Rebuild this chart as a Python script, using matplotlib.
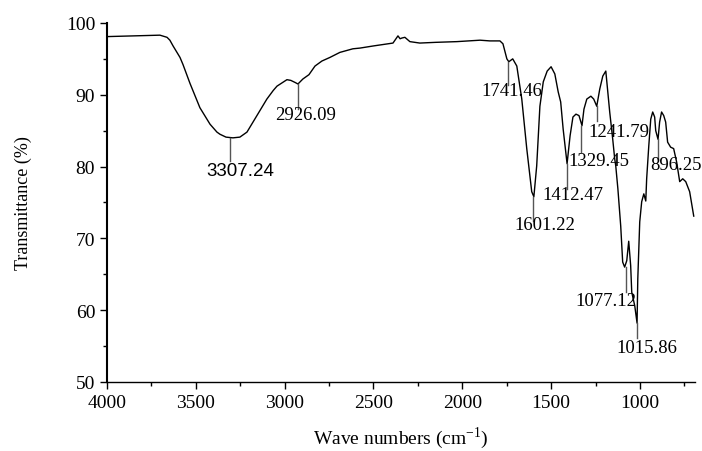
import numpy as np
import matplotlib.pyplot as plt

# FTIR spectrum
wavenumber = [4000, 3850, 3702, 3662, 3646, 3628, 3589, 3572, 3533, 3477, 3420, 3381,
              3364, 3330, 3291, 3252, 3212, 3156, 3100, 3064, 3043, 2987, 2965, 2940,
              2925, 2897, 2863, 2829, 2790, 2745, 2689, 2616, 2576, 2500, 2390, 2362,
              2350, 2340, 2323, 2295, 2239, 2150, 2030, 1900, 1845, 1788, 1771, 1749,
              1738, 1716, 1693, 1665, 1637, 1609, 1597, 1581, 1563, 1544, 1522, 1500,
              1479, 1460, 1446, 1432, 1410, 1393, 1377, 1360, 1343, 1326, 1315, 1299,
              1276, 1260, 1243, 1226, 1209, 1192, 1170, 1153, 1142, 1136, 1124, 1108,
              1097, 1086, 1074, 1063, 1052, 1046, 1029, 1016, 1012, 1001, 990, 978,
              967, 962, 950, 939, 928, 917, 911, 898, 889, 878, 866, 855, 844, 827,
              810, 793, 776, 759, 742, 720, 697]
transmittance = [98.1, 98.2, 98.3, 98.0, 97.6, 96.8, 95.2, 94.2, 91.6, 88.2, 85.9, 84.8,
                 84.5, 84.1, 84.0, 84.1, 84.8, 87.1, 89.4, 90.6, 91.2, 92.1, 92.0, 91.7,
                 91.5, 92.2, 92.8, 94.0, 94.7, 95.2, 95.9, 96.4, 96.5, 96.8, 97.2, 98.2,
                 97.8, 97.9, 98.0, 97.4, 97.2, 97.3, 97.4, 97.6, 97.5, 97.5, 97.1, 95.0,
                 94.6, 95.0, 94.0, 89.4, 82.5, 76.5, 75.8, 80.1, 88.4, 91.8, 93.3, 93.9,
                 92.9, 90.4, 89.0, 85.2, 80.4, 84.3, 86.9, 87.3, 87.1, 85.7, 88.0, 89.4,
                 89.8, 89.4, 88.4, 90.8, 92.6, 93.3, 87.6, 83.8, 81.1, 80.1, 76.9, 71.7,
                 66.7, 66.0, 66.9, 69.6, 66.2, 62.5, 60.6, 58.2, 64.3, 72.3, 75.1, 76.2,
                 75.2, 78.3, 82.9, 86.6, 87.6, 86.9, 85.0, 83.8, 86.2, 87.6, 87.1, 86.2,
                 83.4, 82.7, 82.5, 80.6, 77.9, 78.3, 77.9, 76.5, 73.1]

# labelled peaks: position, curve value at the peak, text
peak_pos = [3307.24, 2926.09, 1741.46, 1601.22, 1412.47, 1329.45, 1241.79, 1077.12, 1015.86, 896.25]
peak_val = [84.0, 91.5, 94.6, 75.8, 80.4, 85.7, 88.4, 66.0, 58.2, 83.8]
peak_text = ["3307.24", "2926.09", "1741.46", "1601.22", "1412.47", "1329.45",
             "1241.79", "1077.12", "1015.86", "896.25"]
# layout of each label: stem length (px), text drop (px), text shift (px)
stem_px = [23, 25, 23, 24, 25, 26, 15, 25, 15, 20]
drop_px = [24, 22, 20, 19, 22, 26, 17, 25, 16, 17]
shift_px = [10, 8, 4, 12, 6, 18, 22, -20, 10, 18]

plt.rcParams['font.family'] = ['Liberation Serif', 'DejaVu Serif']
plt.rcParams['mathtext.fontset'] = 'custom'
plt.rcParams['mathtext.rm'] = 'Liberation Serif'

fig = plt.figure(figsize=(7.02, 4.52), dpi=100)
ax = fig.add_axes([0.1524, 0.1527, 0.8376, 0.7943])

ax.plot(wavenumber, transmittance, color='black', lw=1.0)

px_per_unit = 0.7943 * 452 / 50.0
for x, y, t, s, d, h in zip(peak_pos, peak_val, peak_text, stem_px, drop_px, shift_px):
    ax.plot([x, x], [y, y - s / px_per_unit], color='#555555', lw=1.0)
    fam = ['Liberation Sans'] if t == "3307.24" else ['Liberation Serif']
    ax.annotate(t, xy=(x, y), xytext=(h, -d), textcoords='offset pixels',
                ha='center', va='top', fontsize=13.5, family=fam, color='black',
                annotation_clip=False)

ax.set_xlim(4000, 690)
ax.set_ylim(50, 100)
ax.set_xticks(np.arange(4000, 690, -500))
ax.set_xticks(np.arange(3750, 690, -500), minor=True)
ax.set_yticks(np.arange(50, 101, 10))
ax.set_yticks(np.arange(55, 100, 10), minor=True)
ax.tick_params(which='major', direction='out', length=5, width=1, labelsize=14)
ax.tick_params(which='minor', direction='out', length=3, width=1)

ax.spines['top'].set_visible(False)
ax.spines['right'].set_visible(False)
ax.spines['left'].set_linewidth(1.5)
ax.spines['bottom'].set_linewidth(1.0)

ax.set_xlabel("Wave numbers (cm$^{\\mathregular{-1}}$)", fontsize=14, labelpad=10)
ax.set_ylabel("Transmittance (%)", fontsize=13, labelpad=24)

fig.savefig("out.png", dpi=100)
